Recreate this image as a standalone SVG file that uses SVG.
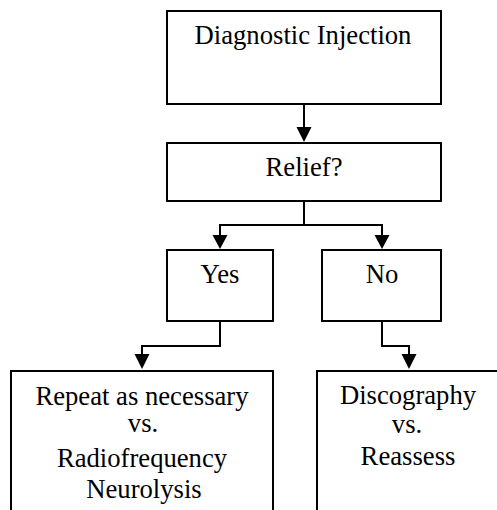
<svg xmlns="http://www.w3.org/2000/svg" width="497" height="510" viewBox="0 0 497 510">
<style>
.box{fill:#fff;stroke:#000;stroke-width:2}
.ln{fill:none;stroke:#000;stroke-width:2}
.ah{fill:#000}
.t{font-family:"Liberation Serif","Times New Roman",serif;font-size:26.67px;fill:#000;text-anchor:middle}
</style>
<rect width="497" height="510" fill="#fff"/>
<g id="connectors">
<path class="ln" d="M304,105 V128"/>
<path class="ah" d="M296.5,127 H311.5 L304,142 Z"/>
<path class="ln" d="M304,201 V225 M220,225 H382 M220,224 V236 M382,224 V236"/>
<path class="ah" d="M212.5,235 H227.5 L220,249 Z"/>
<path class="ah" d="M374.5,235 H389.5 L382,249 Z"/>
<path class="ln" d="M220,321 V346 H142 V355"/>
<path class="ah" d="M134.5,354 H149.5 L142,369 Z"/>
<path class="ln" d="M382,321 V346 H409 V355"/>
<path class="ah" d="M401.5,354 H416.5 L409,369 Z"/>
</g>
<g id="n1">
<rect class="box" x="167" y="11" width="274" height="93"/>
<text class="t" x="303" y="44">Diagnostic Injection</text>
</g>
<g id="n2">
<rect class="box" x="167" y="143" width="274" height="58"/>
<text class="t" x="304" y="176">Relief?</text>
</g>
<g id="n3">
<rect class="box" x="167" y="250" width="106" height="71"/>
<text class="t" x="220" y="283">Yes</text>
</g>
<g id="n4">
<rect class="box" x="322" y="250" width="119" height="71"/>
<text class="t" x="382" y="283">No</text>
</g>
<g id="n5">
<rect class="box" x="11" y="371" width="262" height="160"/>
<text class="t" x="142" y="405">Repeat as necessary</text>
<text class="t" x="143" y="432">vs.</text>
<text class="t" x="142" y="467">Radiofrequency</text>
<text class="t" x="144" y="498">Neurolysis</text>
</g>
<g id="n6">
<rect class="box" x="317" y="371" width="200" height="160"/>
<text class="t" x="408" y="404">Discography</text>
<text class="t" x="407" y="433">vs.</text>
<text class="t" x="408" y="465">Reassess</text>
</g>
</svg>
